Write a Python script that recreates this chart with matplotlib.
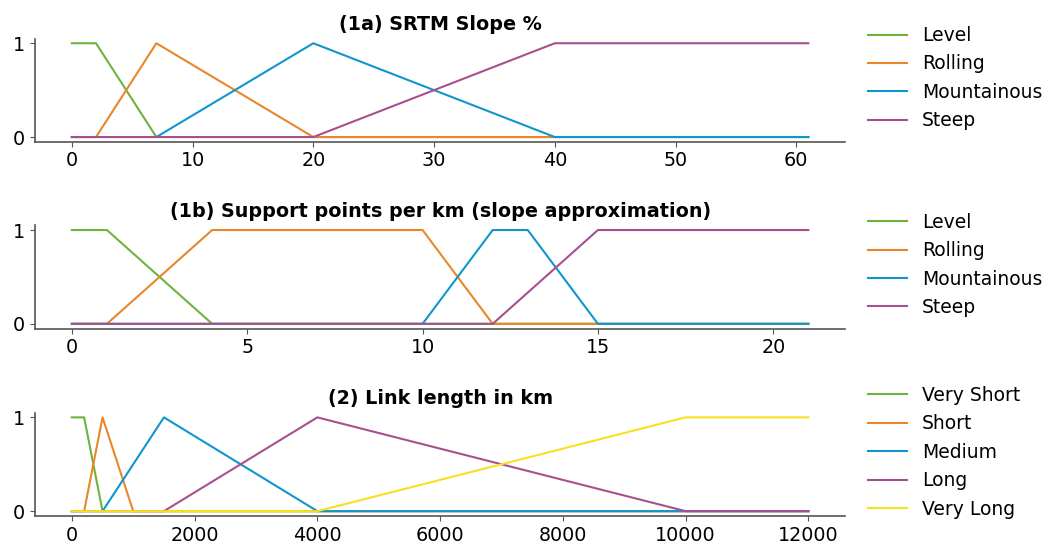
import numpy as np
import matplotlib
matplotlib.use('Agg')
import matplotlib.pyplot as plt

# Breakpoints of the membership functions (x, degree)
slope_x = {
    'Level':       [0, 2, 7, 61],
    'Rolling':     [0, 2, 7, 20, 61],
    'Mountainous': [0, 7, 20, 40, 61],
    'Steep':       [0, 20, 40, 61],
}
slope_y = {
    'Level':       [1, 1, 0, 0],
    'Rolling':     [0, 0, 1, 0, 0],
    'Mountainous': [0, 0, 1, 0, 0],
    'Steep':       [0, 0, 1, 1],
}

support_x = {
    'Level':       [0, 1, 4, 21],
    'Rolling':     [0, 1, 4, 10, 12, 21],
    'Mountainous': [0, 10, 12, 13, 15, 21],
    'Steep':       [0, 12, 15, 21],
}
support_y = {
    'Level':       [1, 1, 0, 0],
    'Rolling':     [0, 0, 1, 1, 0, 0],
    'Mountainous': [0, 0, 1, 1, 0, 0],
    'Steep':       [0, 0, 1, 1],
}

length_x = {
    'Very Short': [0, 200, 500, 12000],
    'Short':      [0, 200, 500, 1000, 12000],
    'Medium':     [0, 500, 1500, 4000, 12000],
    'Long':       [0, 1500, 4000, 10000, 12000],
    'Very Long':  [0, 4000, 10000, 12000],
}
length_y = {
    'Very Short': [1, 1, 0, 0],
    'Short':      [0, 0, 1, 0, 0],
    'Medium':     [0, 0, 1, 0, 0],
    'Long':       [0, 0, 1, 0, 0],
    'Very Long':  [0, 0, 1, 1],
}

colors = ['#6cb33f', '#e8872a', '#0f96ce', '#a84f8e', '#f7e11c']

plt.rcParams['font.family'] = 'DejaVu Sans'
fs = 13.8

fig = plt.figure(figsize=(10.46, 5.43), dpi=100)
boxes = [
    [0.0335, 0.739, 0.7745, 0.190],
    [0.0335, 0.395, 0.7745, 0.190],
    [0.0335, 0.050, 0.7745, 0.190],
]
panels = [
    ('(1a) SRTM Slope %', slope_x, slope_y),
    ('(1b) Support points per km (slope approximation)', support_x, support_y),
    ('(2) Link length in km', length_x, length_y),
]

for box, (title, xs, ys) in zip(boxes, panels):
    ax = fig.add_axes(box)
    for i, name in enumerate(xs):
        ax.plot(xs[name], ys[name], color=colors[i], lw=1.5, label=name)
    ax.set_title(title, fontweight='bold', fontsize=fs)
    ax.set_yticks([0, 1])
    for s in ['top', 'right']:
        ax.spines[s].set_visible(False)
    for s in ['left', 'bottom']:
        ax.spines[s].set_color('#555555')
        ax.spines[s].set_linewidth(1.2)
    ax.tick_params(colors='#555555', labelcolor='black', labelsize=fs)
    ax.legend(loc='center left', bbox_to_anchor=(1.007, 0.616), frameon=False,
              labelspacing=0.5, handlelength=2.1, handletextpad=0.8,
              fontsize=13.5)

plt.savefig('out.png', dpi=100)
